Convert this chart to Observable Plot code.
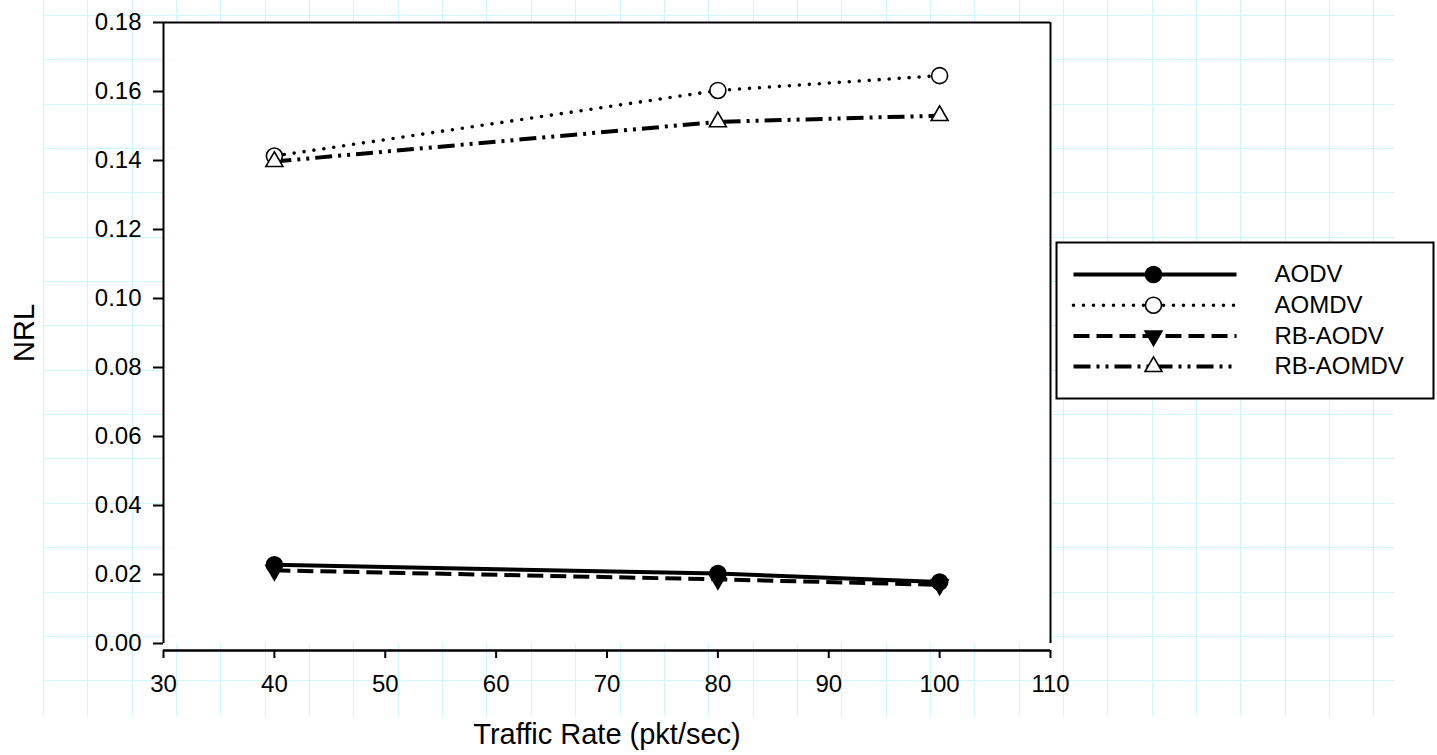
<!DOCTYPE html>
<html><head><meta charset="utf-8">
<script src="https://cdn.jsdelivr.net/npm/d3@7"></script>
<script src="https://cdn.jsdelivr.net/npm/@observablehq/plot@0.6"></script>
<style>
html,body{margin:0;padding:0;background:#fff;}
#wrap{position:relative;width:1437px;height:755px;overflow:hidden;font-family:"Liberation Sans",Arial,sans-serif;}
.gv{position:absolute;left:43px;top:0;width:1332px;height:716px;background:repeating-linear-gradient(to right,#cdf7f9 0,#cdf7f9 1px,transparent 1px,transparent 44.35px);}
.gh{position:absolute;left:43px;top:15px;width:1351px;height:667px;background:repeating-linear-gradient(to bottom,#cdf7f9 0,#cdf7f9 1px,transparent 1px,transparent 44.35px);}
#chart{position:absolute;left:0;top:0;}
#legend{position:absolute;left:1055px;top:241px;}
svg{overflow:visible;}
</style>
</head><body>
<div id="wrap"><div class="gv"></div><div class="gh"></div><div id="chart"></div><div id="legend"></div></div>
<script>
// ---- data ----
const seriesNames = ["AODV", "AOMDV", "RB-AODV", "RB-AOMDV"];
const trafficRate = [40, 80, 100];
const aodv    = [0.0228, 0.0203, 0.0178];
const aomdv   = [0.1413, 0.1603, 0.1646];
const rbAodv  = [0.0212, 0.0186, 0.0170];
const rbAomdv = [0.1397, 0.1512, 0.1530];
const xTicks = [30, 40, 50, 60, 70, 80, 90, 100, 110];
const yTicks = [0, 0.02, 0.04, 0.06, 0.08, 0.10, 0.12, 0.14, 0.16, 0.18];
const xLabel = "Traffic Rate (pkt/sec)";
const yLabel = "NRL";

const values = [aodv, aomdv, rbAodv, rbAomdv];
const styles = [
  {dash: null,                 width: 4,   cap: "butt",  symbol: "circle",   fill: "black", rotate: 0,   r: 8},
  {dash: "0 10",               width: 3.6, cap: "round", symbol: "circle",   fill: "white", rotate: 0,   r: 8},
  {dash: "16 7",               width: 4,   cap: "butt",  symbol: "triangle", fill: "black", rotate: 180, r: 6.3},
  {dash: "17 6 3 6 3 6",       width: 4,   cap: "butt",  symbol: "triangle", fill: "white", rotate: 0,   r: 6.3}
];
const rows = seriesNames.flatMap((s, i) => trafficRate.map((x, j) => ({series: s, x, y: values[i][j]})));

const font = "'Liberation Sans', Arial, sans-serif";
const marks = [
  Plot.frame({fill: "white", stroke: null}),
  Plot.ruleY([0.18], {stroke: "black", strokeWidth: 2}),
  Plot.ruleX([110], {stroke: "black", strokeWidth: 2}),
  Plot.ruleX([30], {stroke: "black", strokeWidth: 2}),
  Plot.ruleY([0], {stroke: "black", strokeWidth: 2.5, dy: 7}),
  Plot.axisY({ticks: yTicks, tickSize: 10, tickPadding: 12, tickFormat: d => d.toFixed(2), fontSize: 24, strokeWidth: 2, label: null, fill: "black"}),
  Plot.axisX({ticks: xTicks, tickSize: 8, tickPadding: 16, dy: 7, fontSize: 24, strokeWidth: 2, label: null, fill: "black"}),
  Plot.text([yLabel], {frameAnchor: "left", textAnchor: "middle", dx: -139, rotate: -90, fontSize: 29, fill: "black"}),
  Plot.text([xLabel], {frameAnchor: "bottom", lineAnchor: "middle", dy: 91, fontSize: 29, fill: "black"})
];
seriesNames.forEach((s, i) => {
  const st = styles[i];
  const d = rows.filter(r => r.series === s);
  marks.push(Plot.line(d, {x: "x", y: "y", stroke: "black", strokeWidth: st.width, strokeDasharray: st.dash, strokeLinecap: st.cap}));
});
seriesNames.forEach((s, i) => {
  const st = styles[i];
  const d = rows.filter(r => r.series === s);
  marks.push(Plot.dot(d, {x: "x", y: "y", symbol: st.symbol, r: st.r, fill: st.fill, stroke: "black", strokeWidth: 1.6, rotate: st.rotate}));
});

const chart = Plot.plot({
  width: 1437, height: 755,
  marginLeft: 163, marginRight: 387, marginTop: 22, marginBottom: 112,
  style: {fontFamily: font, background: "transparent", color: "black"},
  x: {domain: [30, 110]},
  y: {domain: [0, 0.18]},
  marks
});
document.getElementById("chart").append(chart);

// ---- legend (its own small plot, box units, top-down) ----
const legendRows = seriesNames.map((s, i) => ({series: s, i}));
const lx0 = 17, lx1 = 180, lmark = 97, ltext = 218, ly0 = 32, lstep = 30.7;
const lmarks = [Plot.frame({fill: "white", stroke: "black", strokeWidth: 2})];
legendRows.forEach(({series, i}) => {
  const st = styles[i];
  const yy = ly0 + lstep * i;
  lmarks.push(Plot.line([{x: lx0, y: yy}, {x: lx1, y: yy}], {x: "x", y: "y", stroke: "black", strokeWidth: st.width, strokeDasharray: st.dash, strokeLinecap: st.cap}));
  lmarks.push(Plot.dot([{x: lmark, y: yy}], {x: "x", y: "y", symbol: st.symbol, r: st.r, fill: st.fill, stroke: "black", strokeWidth: 1.6, rotate: st.rotate}));
  lmarks.push(Plot.text([{x: ltext, y: yy, t: series}], {x: "x", y: "y", text: "t", textAnchor: "start", fontSize: 24, fill: "black"}));
});
const legend = Plot.plot({
  width: 379, height: 158, margin: 1,
  style: {fontFamily: font, background: "transparent", color: "black"},
  x: {domain: [0, 377], axis: null},
  y: {domain: [0, 156], reverse: true, axis: null},
  marks: lmarks
});
document.getElementById("legend").append(legend);
</script>
</body></html>
